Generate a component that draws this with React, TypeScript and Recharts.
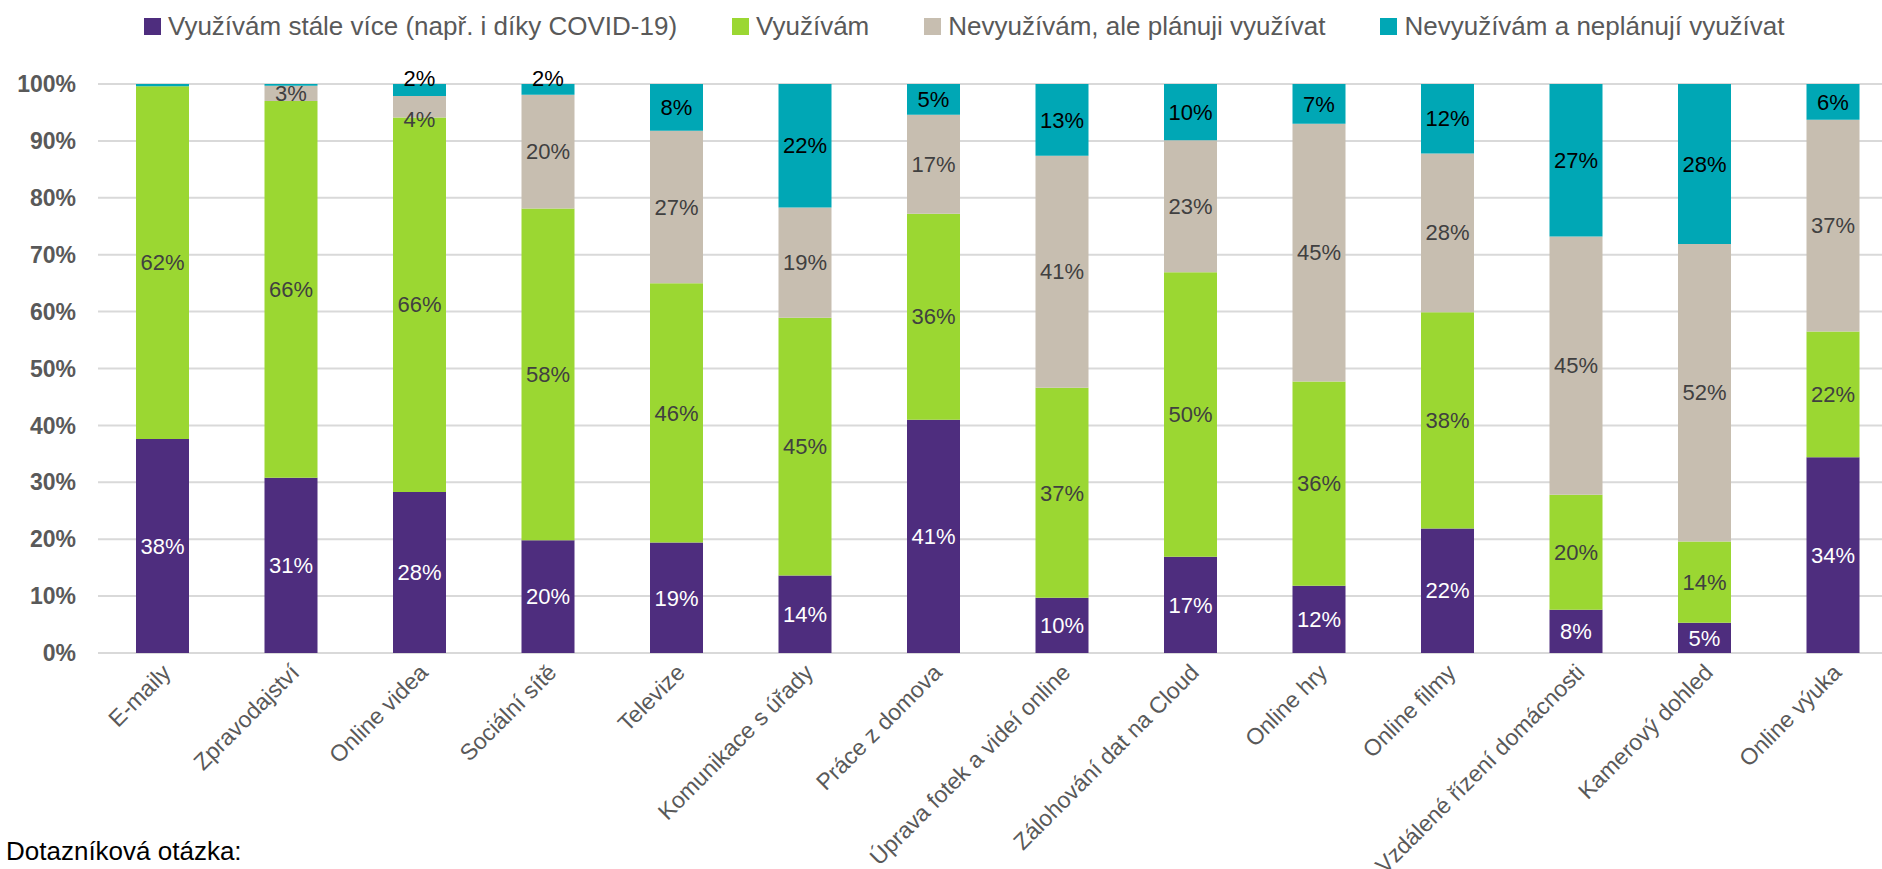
import { Bar, BarChart, CartesianGrid, LabelList, XAxis, YAxis } from "recharts";

// Survey: how household uses internet services (share of respondents, %)
const categories = [
  "E-maily",
  "Zpravodajství",
  "Online videa",
  "Sociální sítě",
  "Televize",
  "Komunikace s úřady",
  "Práce z domova",
  "Úprava fotek a videí online",
  "Zálohování dat na Cloud",
  "Online hry",
  "Online filmy",
  "Vzdálené řízení domácnosti",
  "Kamerový dohled",
  "Online výuka",
];

const useMore = [37.6, 30.8, 28.3, 19.8, 19.4, 13.6, 41.0, 9.7, 16.9, 11.8, 21.9, 7.6, 5.3, 34.4];
const useNow = [62.0, 66.2, 65.8, 58.3, 45.6, 45.3, 36.2, 36.9, 50.0, 35.9, 38.0, 20.2, 14.3, 22.1];
const planUse = [0, 2.7, 3.8, 20.0, 26.8, 19.4, 17.4, 40.8, 23.2, 45.3, 27.9, 45.4, 52.3, 37.2];
const noPlan = [0.4, 0.3, 2.1, 1.9, 8.2, 21.7, 5.4, 12.6, 9.9, 7.0, 12.2, 26.8, 28.1, 6.3];

const yTicks = [0, 10, 20, 30, 40, 50, 60, 70, 80, 90, 100];

const FONT = '"Liberation Sans", Arial, sans-serif';

const series = [
  { key: "more", name: "Využívám stále více (např. i díky COVID-19)", color: "#4E2D7E", label: "#ffffff" },
  { key: "use", name: "Využívám", color: "#9BD732", label: "#404040" },
  { key: "plan", name: "Nevyužívám, ale plánuji využívat", color: "#C7BEB0", label: "#404040" },
  { key: "never", name: "Nevyužívám a neplánují využívat", color: "#00A7B5", label: "#000000" },
];

const data = categories.map((c, i) => ({
  name: c,
  more: useMore[i],
  use: useNow[i],
  plan: planUse[i],
  never: noPlan[i],
}));

function CatTick({ x, y, payload }: any) {
  return (
    <g transform={`translate(${x + 10},${y + 21})`}>
      <text textAnchor="end" transform="rotate(-45)" fontSize={23} fill="#595959" fontFamily={FONT}>
        {payload.value}
      </text>
    </g>
  );
}

const makeLabel = (key: string, color: string) => (props: any) => {
  const vb = props.viewBox && props.viewBox.width != null ? props.viewBox : props;
  const { x, y, width, height } = vb;
  const raw = props.value;
  const v = Array.isArray(raw) ? raw[1] - raw[0] : Number(raw);
  if (!(v >= 1.5)) return null;
  let cy = y + height / 2;
  // thin top segments: label sits just above the bar
  if (key === "never" && height < 16) cy = y - 6;
  // thin beige segment under a labelled teal one: nudge it down
  const i = categories.findIndex((c) => Math.abs(x + width / 2 - (98 + 128.5 * (categories.indexOf(c) + 0.5))) < 30);
  const tealAbove = props.payload?.never ?? (i >= 0 ? noPlan[i] : 0);
  if (key === "plan" && height < 25 && tealAbove >= 1.5) cy += 13;
  return (
    <text
      x={x + width / 2}
      y={cy}
      dy="0.35em"
      textAnchor="middle"
      fill={color}
      fontSize={22}
      fontFamily={FONT}
    >
      {Math.round(v)}%
    </text>
  );
};

export default function App() {
  return (
    <div
      style={{
        position: "absolute",
        left: 0,
        top: 0,
        width: 1882,
        height: 869,
        overflow: "hidden",
        background: "#ffffff",
        fontFamily: FONT,
      }}
    >
      <div
        style={{
          position: "absolute",
          top: 11,
          left: 144,
          display: "flex",
          alignItems: "center",
          gap: 55,
          whiteSpace: "nowrap",
        }}
      >
        {series.map((s) => (
          <div key={s.key} style={{ display: "flex", alignItems: "center", gap: 7 }}>
            <span style={{ width: 17, height: 17, background: s.color, display: "inline-block" }} />
            <span style={{ fontSize: 26, color: "#595959", lineHeight: "30px" }}>{s.name}</span>
          </div>
        ))}
      </div>

      <BarChart width={1900} height={869} data={data} margin={{ top: 84, right: 3, left: 0, bottom: 0 }}>
        <CartesianGrid vertical={false} stroke="#D9D9D9" strokeWidth={2} />
        <XAxis
          dataKey="name"
          interval={0}
          tick={<CatTick />}
          tickLine={false}
          axisLine={false}
          tickSize={0}
          tickMargin={0}
          height={216}
        />
        <YAxis
          domain={[0, 100]}
          ticks={yTicks}
          interval={0}
          width={98}
          tickLine={false}
          axisLine={false}
          tickSize={0}
          tickMargin={22}
          tickFormatter={(v: number) => `${v}%`}
          tick={{ fontSize: 23, fontWeight: 700, fill: "#595959", fontFamily: FONT }}
        />
        {series.map((s) => (
          <Bar
            key={s.key}
            dataKey={s.key}
            name={s.name}
            stackId="a"
            fill={s.color}
            barSize={53}
            isAnimationActive={false}
          >
            <LabelList dataKey={s.key} content={makeLabel(s.key, s.label)} />
          </Bar>
        ))}
      </BarChart>

      <div
        style={{
          position: "absolute",
          left: 6,
          top: 836,
          fontSize: 26,
          lineHeight: "30px",
          color: "#000000",
        }}
      >
        Dotazníková otázka:
      </div>
    </div>
  );
}
